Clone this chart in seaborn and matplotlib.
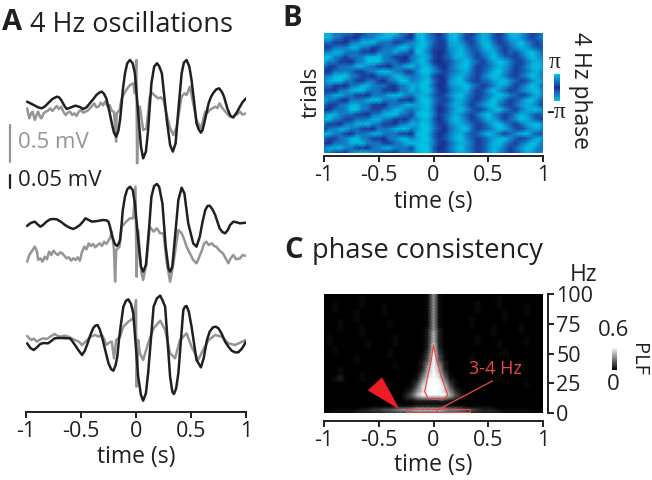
import matplotlib
matplotlib.use('Agg')
import matplotlib.pyplot as plt
from matplotlib.colors import LinearSegmentedColormap
import numpy as np
import seaborn as sns

# --- panel A traces, time in s, amplitude in display units
t_black1 = [-.99,-.96,-.93,-.89,-.86,-.83,-.80,-.76,-.72,-.70,-.68,-.65,-.63,-.59,-.55,-.51,-.48,-.45,-.42,-.39,-.36,-.33,-.31,-.29,-.27,-.245,-.22,-.20,-.18,-.16,-.145,-.13,-.12,-.10,-.08,-.055,-.03,-.01,.02,.045,.065,.09,.11,.14,.165,.19,.21,.235,.28,.31,.335,.36,.385,.415,.435,.46,.485,.505,.53,.55,.57,.59,.605,.62,.64,.66,.68,.70,.73,.755,.78,.80,.83,.855,.87,.885,.915,.945,.97,1.0]
v_black1 = [25,20,15,8,5,10,20,33,40,38,30,12,3,8,13,9,3,8,20,32,45,53,55,48,35,0,-40,-68,-80,-62,-30,20,60,110,140,150,140,110,-10,-110,-145,-125,-60,80,130,140,132,110,-30,-105,-125,-100,0,110,142,150,130,90,20,-40,-58,-68,-60,-40,-10,20,38,50,62,65,55,40,5,-15,-20,-22,-8,10,24,35]
t_gray1 = [-.99,-.97,-.95,-.94,-.92,-.90,-.89,-.87,-.86,-.84,-.82,-.80,-.78,-.76,-.74,-.72,-.70,-.68,-.66,-.64,-.62,-.60,-.58,-.56,-.54,-.52,-.50,-.48,-.46,-.44,-.42,-.40,-.38,-.36,-.34,-.32,-.30,-.28,-.26,-.24,-.22,-.20,-.18,-.175,-.15,-.13,-.09,-.055,-.025,-.01,.003,.01,.02,.035,.065,.095,.125,.145,.165,.20,.225,.25,.28,.31,.34,.37,.415,.44,.46,.49,.52,.55,.59,.63,.65,.67,.72,.74,.76,.78,.80,.83,.855,.88,.90,.925,.945,.97,1.0]
v_gray1 = [5,-25,-8,-5,-30,-12,-5,-22,-25,-10,-5,-2,5,-3,5,12,3,10,-5,-15,-8,-5,-15,-10,-18,-5,0,-8,-5,-2,5,12,20,8,10,22,14,25,12,15,-2,-6,-95,-10,0,35,60,75,80,50,150,-160,10,10,-60,-55,40,52,45,35,38,30,-15,-55,-75,-50,40,50,45,70,20,-30,-55,-5,-8,0,10,6,20,8,0,-12,-20,-22,-15,-12,-5,-14,-10]
t_black2 = [-.99,-.97,-.95,-.92,-.895,-.87,-.845,-.81,-.78,-.75,-.72,-.68,-.645,-.61,-.57,-.54,-.51,-.48,-.46,-.43,-.40,-.35,-.30,-.27,-.25,-.235,-.22,-.195,-.175,-.16,-.145,-.13,-.12,-.10,-.08,-.055,-.03,-.01,.02,.045,.065,.09,.12,.14,.165,.19,.21,.24,.27,.295,.31,.33,.355,.385,.415,.44,.475,.52,.55,.58,.605,.63,.65,.67,.695,.72,.74,.76,.785,.81,.835,.855,.885,.915,.945,1.0]
v_black2 = [-8,-2,2,5,-3,-10,-5,6,12,13,12,4,-5,-12,-17,-12,-5,6,15,10,5,7,10,9,5,-12,-35,-60,-68,-63,-50,0,40,80,102,110,100,60,-50,-130,-145,-125,-10,80,112,118,110,60,-70,-135,-145,-130,-40,70,107,90,0,-60,-70,-40,5,40,52,53,42,25,5,-15,-26,-30,-20,-5,5,3,0,2]
t_gray2 = [-.99,-.97,-.96,-.94,-.92,-.90,-.89,-.87,-.85,-.83,-.81,-.79,-.77,-.75,-.73,-.71,-.69,-.67,-.65,-.63,-.61,-.59,-.57,-.55,-.53,-.51,-.49,-.47,-.45,-.43,-.41,-.39,-.37,-.35,-.33,-.31,-.29,-.27,-.25,-.23,-.22,-.20,-.19,-.18,-.15,-.13,-.09,-.055,-.025,-.005,.005,.02,.05,.065,.095,.125,.16,.19,.22,.25,.28,.31,.34,.385,.415,.44,.46,.49,.52,.55,.57,.60,.62,.64,.66,.69,.71,.73,.76,.79,.81,.84,.86,.885,.91,.945,.97,1.0]
v_gray2 = [-25,-5,0,10,20,5,-20,-15,-25,-10,-18,5,-5,8,0,-5,3,0,-8,-15,-12,-22,-15,-20,-12,-22,5,20,12,30,22,28,18,25,30,22,35,28,38,50,65,10,-85,10,20,80,95,105,105,200,-70,70,-60,-80,-30,80,65,75,60,60,-30,-85,-30,70,60,40,20,0,-20,-30,-15,10,30,35,25,30,22,20,8,0,-12,-30,-15,-5,-18,-15,-5,-8]
t_black3 = [-.99,-.96,-.93,-.90,-.87,-.84,-.80,-.77,-.74,-.70,-.60,-.58,-.555,-.52,-.49,-.465,-.44,-.415,-.39,-.37,-.35,-.33,-.31,-.28,-.25,-.225,-.205,-.185,-.17,-.155,-.14,-.115,-.09,-.07,-.045,-.025,.02,.045,.065,.09,.11,.16,.19,.22,.24,.265,.31,.33,.345,.365,.385,.43,.445,.46,.48,.505,.55,.59,.615,.645,.67,.70,.725,.75,.78,.81,.84,.87,.90,.93,.965,1.0]
v_black3 = [-10,-24,-30,-22,-12,-9,-10,-3,5,6,5,-3,-15,-32,-45,-32,-10,15,35,43,45,32,10,-30,-70,-88,-92,-75,-50,0,40,100,118,122,108,80,-110,-165,-182,-160,-100,100,125,133,120,100,-110,-155,-162,-145,-100,90,100,102,85,40,-60,-82,-55,0,25,38,40,35,18,-5,-20,-32,-37,-37,-25,-5]
t_gray3 = [-.99,-.97,-.95,-.93,-.90,-.87,-.84,-.81,-.78,-.76,-.74,-.71,-.68,-.65,-.615,-.585,-.555,-.52,-.49,-.46,-.43,-.40,-.37,-.34,-.31,-.29,-.27,-.245,-.22,-.20,-.18,-.145,-.115,-.07,-.025,0,.005,.02,.035,.065,.11,.16,.22,.265,.31,.355,.40,.46,.505,.565,.61,.66,.72,.78,.84,.90,1.0]
v_gray3 = [12,5,0,4,-5,2,5,3,10,14,18,12,10,13,10,5,0,-5,-15,-5,5,12,15,10,15,3,-15,-8,-5,-55,0,10,40,55,65,120,-140,0,-40,-60,-10,35,58,30,-40,-55,0,20,-20,-60,-30,0,15,10,-10,-15,0]

time_ticks = [-1, -0.5, 0, 0.5, 1]
time_labels = ['-1', '-0.5', '0', '0.5', '1']

# --- panel B, phase magnitude per trial, read as 0 (navy) .. 9 (cyan)
phase_rows = [
    '88544 41144 58995 41896 20389 62048 73038 97412 5',
    '88541 10445 88854 10895 31289 51258 72137 86313 6',
    '44110 45889 54411 45797 31178 63148 84125 79631 4',
    '11445 88541 14459 95896 21167 85237 96313 68742 2',
    '45885 44110 45585 41985 10157 96325 78413 25896 3',
    '99541 44588 95411 04687 20248 87413 69632 13697 5',
    '85411 04599 95441 14796 10125 79631 47985 21478 6',
    '41144 58854 11045 89588 41036 89512 36874 12589 7',
    '10445 41145 89854 11699 63135 78412 58963 12478 5',
    '45899 54110 44588 54578 20147 86314 79852 13697 4',
    '58995 41144 10459 95689 41068 95213 47896 31258 7',
    '44110 45885 44114 58798 30157 89631 25874 13697 3',
    '11045 89954 41104 58689 51036 78412 69631 25789 4',
    '45885 41104 45899 54787 31258 96312 47985 31268 5',
    '85410 44589 95441 10699 52137 85213 69741 25896 2',
    '41145 88541 10445 88789 41258 74136 89521 36874 1',
    '10445 99541 14588 54688 40147 96312 58963 14789 5',
    '58854 41104 58995 41899 51258 63147 96312 58742 3',
    '89541 14458 85411 04588 30269 74125 87413 69852 1',
    '41104 58895 41104 58798 41157 86312 58963 14789 6',
    '14588 54110 44589 95699 52036 89412 36985 21478 5',
    '88541 04458 85441 10898 30147 85236 97413 68952 2',
    '41145 89541 10458 85799 41258 96312 47896 31258 7',
    '10445 88954 41145 89898 51036 87412 58963 14698 3',
    '58895 41104 58854 41899 30147 96312 58741 36985 4',
    '44110 58995 41104 45799 41136 87412 69631 25874 6',
]

# --- panel C, PLF per 2.5 Hz from 100 Hz down, read as 0 .. 9
plf_rows = [
    '00000 00000 00000 00001 61000 00000 00000 00000 0',
    '00000 00100 00000 00001 61000 00000 00100 00000 0',
    '00000 00100 00000 00001 61000 00000 00100 00000 0',
    '00100 00100 00000 00001 61000 00010 00100 00000 0',
    '00100 00100 01000 00001 61000 00010 00100 00100 0',
    '00100 00000 01000 00001 61000 00010 00100 00100 0',
    '00100 01000 01000 00001 61000 00010 00010 00100 0',
    '00000 01000 01000 00001 61000 00000 00010 00100 0',
    '00000 01000 00000 00001 61000 00100 00010 00000 0',
    '00010 01000 00100 00001 61000 00100 00010 00000 0',
    '00010 00000 00100 00001 61000 00100 00000 01000 0',
    '00010 00100 00100 00001 61000 00100 01000 01000 0',
    '00010 00100 00000 00002 62000 00000 01000 01000 0',
    '00000 00100 00000 00002 72000 00000 01000 01000 0',
    '01000 00100 00010 00002 72000 00010 01000 00000 0',
    '01000 00000 00010 00002 72000 00010 00000 00100 0',
    '01000 00010 00010 00002 72000 00010 00100 00100 0',
    '01000 00010 00010 00002 82000 00010 00100 00100 0',
    '00100 00010 00000 00002 82000 00000 00100 00000 0',
    '00100 00000 00100 00003 83000 00000 00010 00000 0',
    '00100 00000 00100 00013 93100 00000 00010 00000 0',
    '00000 01000 00100 00014 94100 00100 00010 00000 0',
    '00000 01000 00000 00014 94100 00100 00000 00000 0',
    '00000 01000 00010 00025 95200 00100 00000 01000 0',
    '00000 00000 00010 00026 96200 00010 00000 01000 0',
    '00010 00000 00010 00027 97200 00010 00000 01000 0',
    '00010 00000 00000 00037 97300 00010 00000 00000 0',
    '00010 00100 00000 00148 98410 00000 00100 00000 0',
    '00120 00100 00000 00158 98510 00000 00100 00000 0',
    '00120 00100 00000 01269 99621 00000 00100 00000 0',
    '00000 00000 00100 01379 99731 00000 00000 00100 0',
    '00000 00000 00100 01489 99841 00000 00000 00100 0',
    '00000 00000 00000 12589 99852 10000 00000 00000 0',
    '00000 00000 00000 13689 99863 10000 00000 00000 0',
    '00000 00000 00000 24799 99974 20000 00000 00000 0',
    '00000 00000 00000 23566 66653 21000 00000 00000 0',
    '00000 00000 00000 11222 22211 00000 00000 00000 0',
    '00000 00000 00000 00111 11100 00000 00000 00000 0',
    '00000 00001 11122 22333 33322 21111 10000 00000 0',
    '00111 11223 34456 67888 88766 54432 22111 11100 0',
    '11111 12222 22333 33333 33333 33222 22211 11111 1',
]
hz_ticks = [0, 25, 50, 75, 100]

# red annotations on panel C
contour1_t = [0, -.02, -.05, -.08, -.05, .085, .13, .07, .025, 0]
contour1_hz = [57, 45, 32, 18, 12, 11, 15, 31, 46, 57]
contour2_t = [-.25, .33, .33, -.25, -.25]
contour2_hz = [1, 1, 3, 3, 1]
pointer_t = [.025, .54]
pointer_hz = [2, 27]
arrow_t = [-.31, -.60, -.47]
arrow_hz = [3, 19, 30]


def digits(rows):
    return np.array([[int(c) for c in r.replace(' ', '')] for r in rows], dtype=float)


W, H = 652, 480


def box(left, top, right, bottom):
    return [left / W, 1 - bottom / H, (right - left) / W, (bottom - top) / H]


def label(x, y, s, size=16, **kw):
    kw.setdefault('ha', 'center')
    kw.setdefault('va', 'center')
    kw.setdefault('color', '#231f20')
    return fig.text(x / W, 1 - y / H, s, fontsize=size, **kw)


sns.set_theme(style='white')
plt.rcParams['font.family'] = ['Open Sans', 'DejaVu Sans']
plt.rcParams['axes.edgecolor'] = '#231f20'
plt.rcParams['xtick.color'] = '#231f20'
plt.rcParams['ytick.color'] = '#231f20'

fig = plt.figure(figsize=(W / 100, H / 100), dpi=100)
BLACK = '#231f20'
GRAY = '#939598'
AXW = 1.4
TICK = dict(length=4.5, width=AXW, labelsize=15.5, pad=2, bottom=True)

# panel A
ax_a = fig.add_axes(box(26, 40, 246, 412))
ax_a.set_xlim(-1, 1)
ax_a.set_ylim(0, 1116)
ax_a.patch.set_alpha(0)
base1, base2_black, base2_gray, base3 = 906, 566, 476, 216
for t, v, base, col, lw in [
    (t_gray1, v_gray1, base1, GRAY, 1.8),
    (t_gray2, v_gray2, base2_gray, GRAY, 1.8),
    (t_gray3, v_gray3, base3, GRAY, 1.8),
    (t_black1, v_black1, base1, BLACK, 1.8),
    (t_black2, v_black2, base2_black, BLACK, 1.8),
    (t_black3, v_black3, base3, BLACK, 1.8),
]:
    sns.lineplot(x=t, y=np.array(v) + base, color=col, lw=lw, sort=False,
                 estimator=None, ax=ax_a, solid_joinstyle='round')
ax_a.set_xticks(time_ticks)
ax_a.set_xticklabels(time_labels)
ax_a.set_yticks([])
ax_a.tick_params(axis='x', **TICK)
ax_a.set(xlabel='', ylabel='')
sns.despine(ax=ax_a, left=True)
ax_a.spines['bottom'].set_linewidth(AXW)

# scale bars
fig.add_artist(plt.Line2D([10 / W, 10 / W], [1 - 125 / H, 1 - 162 / H], color=GRAY, lw=1.6))
fig.add_artist(plt.Line2D([10 / W, 10 / W], [1 - 175 / H, 1 - 188 / H], color=BLACK, lw=1.6))
label(18, 143, '0.5 mV', color=GRAY, ha='left')
label(18, 181, '0.05 mV', ha='left')
label(136, 457, 'time (s)', size=16.5)

# panel B
phase = digits(phase_rows) / 9 * np.pi
phase_cmap = LinearSegmentedColormap.from_list(
    'phase', ['#00c6e2', '#0f8ed2', '#1565b8', '#1b2a8c', '#1565b8', '#0f8ed2', '#00c6e2'])
ax_b = fig.add_axes(box(324, 33, 543, 153))
cax_b = fig.add_axes(box(554, 74, 560, 101))
sns.heatmap(phase, ax=ax_b, cmap=phase_cmap, vmin=-np.pi, vmax=np.pi, cbar=True, cbar_ax=cax_b,
            cbar_kws={'ticks': []}, xticklabels=False, yticklabels=False, shading='gouraud')
ax_b.collections[0].colorbar.outline.set_visible(False)
ax_b.set_xlim(0, phase.shape[1] - 1)
ax_b.set_ylim(phase.shape[0] - 1, 0)
ax_b.set_xticks(np.linspace(0, phase.shape[1] - 1, 5))
ax_b.set_xticklabels(time_labels)
ax_b.tick_params(axis='x', **TICK)
ax_b.spines['bottom'].set_visible(True)
ax_b.spines['bottom'].set_position(('outward', 2.2))
ax_b.spines['bottom'].set_linewidth(AXW)
label(433, 202, 'time (s)', size=16.5)
label(311, 92, 'trials', rotation=90)
label(580, 91, '4 Hz phase', rotation=270, size=16.5)
label(555, 62, 'π', family='Liberation Serif', size=17)
label(556, 112, '-π', family='Liberation Serif', size=17)

# panel C, digit levels get a slight gamma so the faint streaks stay faint
plf = (digits(plf_rows) / 9) ** 1.4 * 0.6
ax_c = fig.add_axes(box(324, 294, 543, 413))
cax_c = fig.add_axes(box(612, 347, 617, 370))
sns.heatmap(plf, ax=ax_c, cmap=sns.color_palette('gray', as_cmap=True), vmin=0, vmax=0.6,
            cbar=True, cbar_ax=cax_c, cbar_kws={'ticks': []},
            xticklabels=False, yticklabels=False, shading='gouraud')
ax_c.collections[0].colorbar.outline.set_visible(False)
n_hz, n_t = plf.shape


def col_of(t):
    return (np.array(t) + 1) / 2 * (n_t - 1)


def row_of(hz):
    return (100 - np.array(hz)) / 100 * (n_hz - 1)


RED = '#e8484a'
for t, hz, lw in [(contour1_t, contour1_hz, 0.9), (contour2_t, contour2_hz, 0.7), (pointer_t, pointer_hz, 0.9)]:
    sns.lineplot(x=col_of(t), y=row_of(hz), color=RED, lw=lw, sort=False, estimator=None, ax=ax_c)
ax_c.fill(col_of(arrow_t), row_of(arrow_hz), color='#ee1c25', lw=0, clip_on=False)
ax_c.set(xlabel='', ylabel='')
ax_c.set_xlim(0, n_t - 1)
ax_c.set_ylim(n_hz - 1, 0)
ax_c.set_xticks(col_of(time_ticks))
ax_c.set_xticklabels(time_labels)
ax_c.set_yticks(row_of(hz_ticks))
ax_c.set_yticklabels([str(h) for h in hz_ticks])
ax_c.tick_params(axis='x', **TICK)
ax_c.yaxis.tick_right()
ax_c.tick_params(axis='y', length=4.5, width=AXW, labelsize=15.5, pad=1.5, right=True)
for side, off in [('bottom', 5.8), ('right', 3.6)]:
    ax_c.spines[side].set_visible(True)
    ax_c.spines[side].set_position(('outward', off))
    ax_c.spines[side].set_linewidth(AXW)
label(433, 465, 'time (s)', size=16.5)
label(583, 275, 'Hz', size=16.5)
label(495, 369, '3-4 Hz', color=RED, size=13)
label(614, 331, '0.6')
label(613, 385, '0')
label(638, 360, 'PLF', rotation=270, size=14.5)

# titles and panel letters
label(30, 25, '4 Hz oscillations', size=19.5, ha='left')
label(312, 251, 'phase consistency', size=19.5, ha='left')
label(12, 22, 'A', size=21, weight='bold')
label(292, 18, 'B', size=21, weight='bold')
label(294, 251, 'C', size=21, weight='bold')

fig.savefig('out.png', dpi=100)
